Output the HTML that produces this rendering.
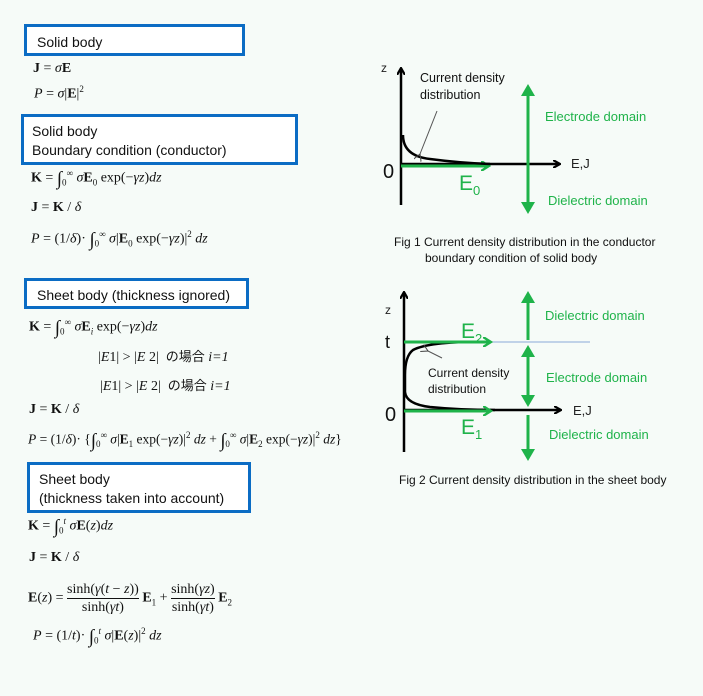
<!DOCTYPE html>
<html><head><meta charset="utf-8"><style>
html,body{margin:0;padding:0}
body{width:703px;height:696px;background:#f6fbf8;position:relative;overflow:hidden;font-family:"Liberation Sans","Noto Sans CJK JP",sans-serif}
.box{position:absolute;border:3px solid #0b6cc4;box-sizing:border-box;background:#fff;font-size:14px;color:#111;line-height:19px}
.eq{position:absolute;font-family:"Liberation Serif","Noto Serif CJK SC",serif;font-size:14px;color:#111;white-space:nowrap}
.eq b{font-weight:bold}
.eq i{font-style:italic}
sup,sub{font-size:9px}
.fr{display:inline-block;vertical-align:middle;text-align:center}
.fr span{display:block;line-height:17px}
.fr span.n{border-bottom:1px solid #111}
.jp{font-family:"Noto Sans CJK JP",sans-serif;font-size:13px}
.ig{font-size:19px;vertical-align:-3px}
svg{position:absolute;left:0;top:0}
</style></head><body>
<div class="box" style="left:24px;top:24px;width:221px;height:32px;padding:6px 0 0 10px">Solid body</div>
<div class="eq" style="left:33px;top:61px"><b>J</b> = <i>σ</i><b>E</b></div>
<div class="eq" style="left:34px;top:84px"><i>P</i> = <i>σ</i>|<b>E</b>|<sup>2</sup></div>
<div class="box" style="left:21px;top:114px;width:277px;height:51px;padding:5px 0 0 8px">Solid body<br>Boundary condition (conductor)</div>
<div class="eq" style="left:31px;top:168px"><b>K</b> = <span class="ig">∫</span><sub>0</sub><sup>∞</sup> <i>σ</i><b>E</b><sub>0</sub> exp(−<i>γz</i>)<i>dz</i></div>
<div class="eq" style="left:31px;top:200px"><b>J</b> = <b>K</b> / <i>δ</i></div>
<div class="eq" style="left:31px;top:229px"><i>P</i> = (1/<i>δ</i>)· <span class="ig">∫</span><sub>0</sub><sup>∞</sup> <i>σ</i>|<b>E</b><sub>0</sub> exp(−<i>γz</i>)|<sup>2</sup> <i>dz</i></div>
<div class="box" style="left:24px;top:278px;width:225px;height:31px;padding:5px 0 0 10px">Sheet body (thickness ignored)</div>
<div class="eq" style="left:29px;top:317px"><b>K</b> = <span class="ig">∫</span><sub>0</sub><sup>∞</sup> <i>σ</i><b>E</b><sub><i>i</i></sub> exp(−<i>γz</i>)<i>dz</i></div>
<div class="eq" style="left:98px;top:346px">|<i>E</i>1| &gt; |<i>E</i> 2| &nbsp;<span class="jp">の場合</span> <i>i=1</i></div>
<div class="eq" style="left:100px;top:375px">|<i>E</i>1| &gt; |<i>E</i> 2| &nbsp;<span class="jp">の場合</span> <i>i=1</i></div>
<div class="eq" style="left:29px;top:402px"><b>J</b> = <b>K</b> / <i>δ</i></div>
<div class="eq" style="left:28px;top:430px;font-size:13.5px"><i>P</i> = (1/<i>δ</i>)· {<span class="ig">∫</span><sub>0</sub><sup>∞</sup> <i>σ</i>|<b>E</b><sub>1</sub> exp(−<i>γz</i>)|<sup>2</sup> <i>dz</i> + <span class="ig">∫</span><sub>0</sub><sup>∞</sup> <i>σ</i>|<b>E</b><sub>2</sub> exp(−<i>γz</i>)|<sup>2</sup> <i>dz</i>}</div>
<div class="box" style="left:27px;top:462px;width:224px;height:51px;padding:5px 0 0 9px">Sheet body<br>(thickness taken into account)</div>
<div class="eq" style="left:28px;top:516px"><b>K</b> = <span class="ig">∫</span><sub>0</sub><sup><i>t</i></sup> <i>σ</i><b>E</b>(<i>z</i>)<i>dz</i></div>
<div class="eq" style="left:29px;top:550px"><b>J</b> = <b>K</b> / <i>δ</i></div>
<div class="eq" style="left:28px;top:581px"><b>E</b>(<i>z</i>) = <span class="fr"><span class="n">sinh(<i>γ</i>(<i>t</i> − <i>z</i>))</span><span>sinh(<i>γt</i>)</span></span> <b>E</b><sub>1</sub> + <span class="fr"><span class="n">sinh(<i>γz</i>)</span><span>sinh(<i>γt</i>)</span></span> <b>E</b><sub>2</sub></div>
<div class="eq" style="left:33px;top:626px"><i>P</i> = (1/<i>t</i>)· <span class="ig">∫</span><sub>0</sub><sup><i>t</i></sup> <i>σ</i>|<b>E</b>(<i>z</i>)|<sup>2</sup> <i>dz</i></div>

<svg width="703" height="696" viewBox="0 0 703 696" font-family="Liberation Sans, sans-serif">
<defs>
<marker id="ak" markerWidth="8" markerHeight="8" refX="7" refY="4" orient="auto" markerUnits="userSpaceOnUse"><path d="M0,0 L7,4 L0,8" fill="none" stroke="#000" stroke-width="2.2"/></marker>
<marker id="ag" markerWidth="10" markerHeight="10" refX="8" refY="5" orient="auto" markerUnits="userSpaceOnUse"><path d="M0,0 L8,5 L0,10" fill="none" stroke="#1fb34a" stroke-width="2.4"/></marker>
<marker id="thin" markerWidth="8" markerHeight="8" refX="1" refY="4" orient="auto-start-reverse" markerUnits="userSpaceOnUse"><path d="M8,0 L1,4 L8,8" fill="none" stroke="#444" stroke-width="1"/></marker>
</defs>
<!-- Fig 1 -->
<line x1="401" y1="205" x2="401" y2="68" stroke="#000" stroke-width="2.5" marker-end="url(#ak)"/>
<line x1="401" y1="164" x2="560" y2="164" stroke="#000" stroke-width="2.5" marker-end="url(#ak)"/>
<line x1="401" y1="166" x2="489" y2="166" stroke="#1fb34a" stroke-width="3" marker-end="url(#ag)"/>
<g fill="#1fb34a">
<rect x="526.5" y="94" width="3" height="110"/>
<polygon points="528,84 521,96 535,96"/>
<polygon points="528,214 521,202 535,202"/>
</g>
<path d="M403,135 Q403,156 430,159 Q460,163 490,164" fill="none" stroke="#000" stroke-width="2.5"/>
<line x1="437" y1="111" x2="420" y2="154" stroke="#555" stroke-width="1" marker-end="url(#thin)"/>
<text x="381" y="72" font-size="12" fill="#222">z</text>
<text x="420" y="82" font-size="12.5" fill="#111">Current density</text>
<text x="420" y="99" font-size="12.5" fill="#111">distribution</text>
<text x="545" y="121" font-size="13" fill="#1fb34a">Electrode domain</text>
<text x="571" y="168" font-size="13" fill="#222">E,J</text>
<text x="383" y="178" font-size="20" fill="#111">0</text>
<text x="459" y="190" font-size="21" fill="#1fb34a">E</text><text x="473" y="195" font-size="13" fill="#1fb34a">0</text>
<text x="548" y="205" font-size="13" fill="#1fb34a">Dielectric domain</text>
<text x="394" y="246" font-size="12" fill="#111">Fig 1 Current density distribution in the conductor</text>
<text x="425" y="262" font-size="12" fill="#111">boundary condition of solid body</text>
<!-- Fig 2 -->
<line x1="404" y1="452" x2="404" y2="292" stroke="#000" stroke-width="2.5" marker-end="url(#ak)"/>
<line x1="404" y1="342" x2="590" y2="342" stroke="#8aa8d8" stroke-width="1"/>
<line x1="404" y1="410" x2="561" y2="410" stroke="#000" stroke-width="2.5" marker-end="url(#ak)"/>
<path d="M490,342 Q430,341 413,350 Q405,356 405,375 L405,392 Q406,404 430,407 Q460,410 495,410" fill="none" stroke="#000" stroke-width="2.5"/>
<line x1="404" y1="342" x2="491" y2="342" stroke="#1fb34a" stroke-width="3" marker-end="url(#ag)"/>
<line x1="404" y1="411" x2="491" y2="411" stroke="#1fb34a" stroke-width="3" marker-end="url(#ag)"/>
<g fill="#1fb34a">
<polygon points="528,291 521,303 535,303"/>
<rect x="526.5" y="301" width="3" height="39"/>
<polygon points="528,345 521,357 535,357"/>
<rect x="526.5" y="355" width="3" height="42"/>
<polygon points="528,407 521,395 535,395"/>
<rect x="526.5" y="415" width="3" height="36"/>
<polygon points="528,461 521,449 535,449"/>
</g>
<line x1="442" y1="358" x2="428" y2="351" stroke="#555" stroke-width="1" marker-end="url(#thin)"/>
<text x="385" y="314" font-size="12" fill="#222">z</text>
<text x="385" y="348" font-size="18" fill="#111">t</text>
<text x="461" y="338" font-size="21" fill="#1fb34a">E</text><text x="475" y="343" font-size="13" fill="#1fb34a">2</text>
<text x="428" y="377" font-size="12" fill="#111">Current density</text>
<text x="428" y="393" font-size="12" fill="#111">distribution</text>
<text x="545" y="320" font-size="13" fill="#1fb34a">Dielectric domain</text>
<text x="546" y="382" font-size="13" fill="#1fb34a">Electrode domain</text>
<text x="573" y="415" font-size="13" fill="#222">E,J</text>
<text x="385" y="421" font-size="20" fill="#111">0</text>
<text x="461" y="434" font-size="21" fill="#1fb34a">E</text><text x="475" y="439" font-size="13" fill="#1fb34a">1</text>
<text x="549" y="439" font-size="13" fill="#1fb34a">Dielectric domain</text>
<text x="399" y="484" font-size="12" fill="#111">Fig 2 Current density distribution in the sheet body</text>
</svg>
</body></html>
